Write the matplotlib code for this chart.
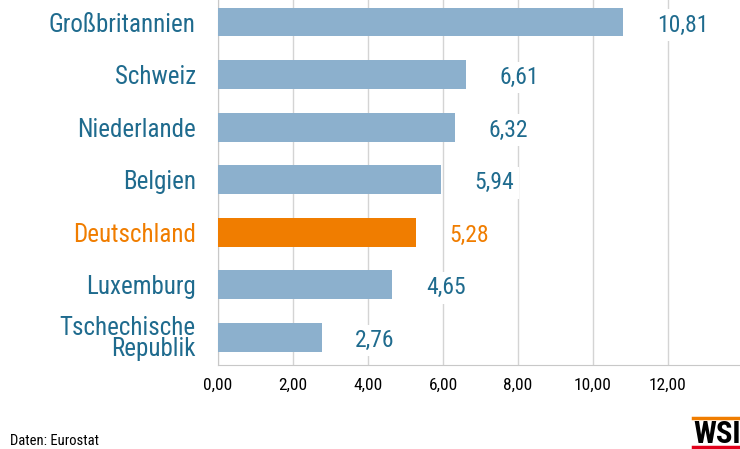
import matplotlib
matplotlib.use("Agg")
import matplotlib.pyplot as plt
import matplotlib.ticker as mticker
import numpy as np

# Daten
laender = ["Großbritannien", "Schweiz", "Niederlande", "Belgien",
           "Deutschland", "Luxemburg", "Tschechische\nRepublik"]
werte = [10.81, 6.61, 6.32, 5.94, 5.28, 4.65, 2.76]
hervorheben = "Deutschland"
x_ticks = [0, 2, 4, 6, 8, 10, 12]

BLAU_BALKEN = "#8cb0cd"
BLAU_TEXT = "#1f6b8e"
ORANGE = "#f07d00"
FONT = ["Roboto Condensed", "DejaVu Sans"]

plt.rcParams["font.family"] = FONT

fig = plt.figure(figsize=(7.40, 4.49), dpi=100)
ax = fig.add_axes([218 / 740, 1 - 365 / 449, 522 / 740, 365 / 449])

y = np.arange(len(laender))
farben = [ORANGE if l == hervorheben else BLAU_BALKEN for l in laender]
ax.barh(y, werte, height=0.55, color=farben, zorder=3)

# Werte rechts neben den Balken
for yi, w, l in zip(y, werte, laender):
    c = ORANGE if l == hervorheben else BLAU_TEXT
    ax.text(w + 0.9, yi + 0.06, f"{w:.2f}".replace(".", ","), ha="left", va="center",
            fontsize=17, color=c, zorder=4,
            bbox=dict(facecolor="white", edgecolor="none", pad=3))

ax.set_xlim(0, 522 / 37.5)
ax.set_ylim(6.53, -0.42)
ax.set_xticks(x_ticks)
ax.xaxis.set_major_formatter(mticker.FuncFormatter(lambda v, p: f"{v:.2f}".replace(".", ",")))
ax.set_yticks(y)
ax.set_yticklabels(laender, fontsize=18, linespacing=0.88)
for lab, l in zip(ax.get_yticklabels(), laender):
    lab.set_color(ORANGE if l == hervorheben else BLAU_TEXT)

ax.tick_params(axis="y", length=0, pad=16)
ax.tick_params(axis="x", length=0, pad=9, labelsize=12.5, labelcolor="black")
ax.grid(True, axis="x", color="#d4d4d4", linewidth=1, zorder=0)
for s in ["top", "right"]:
    ax.spines[s].set_visible(False)
ax.spines["left"].set_color("#c8c8c8")
ax.spines["bottom"].set_color("#c8c8c8")

fig.text(10 / 740, 1 - 441 / 449, "Daten: Eurostat", fontsize=10.5, ha="left", va="center")

# WSI-Logo (rechts angeschnitten wie im Original)
fig.add_artist(plt.Line2D([693 / 740, 1], [1 - 418 / 449] * 2, color=ORANGE, linewidth=2.5))
fig.add_artist(plt.Line2D([693 / 740, 1], [1 - 447 / 449] * 2, color="#e3001b", linewidth=2.5))
fig.text(693 / 740, 1 - 434 / 449, "WSI", fontsize=22, fontweight="bold", family="Roboto Condensed",
         ha="left", va="center", color="black")

fig.savefig("out.png", dpi=100)
